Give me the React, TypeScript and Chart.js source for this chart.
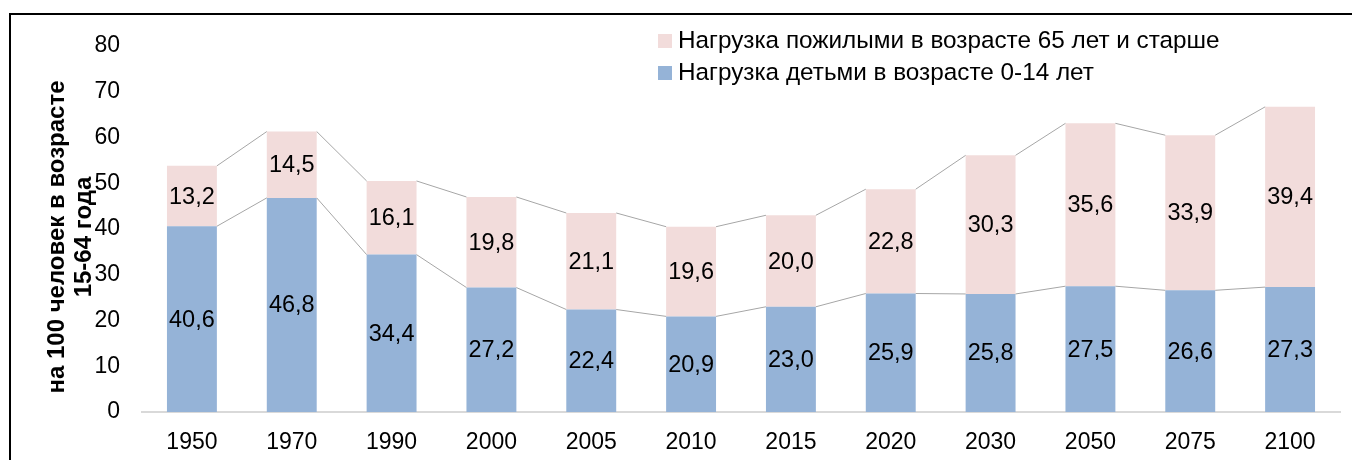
import React, { useEffect, useRef } from "react";
import { Chart, registerables } from "chart.js";

Chart.register(...registerables);

const categories = ["1950", "1970", "1990", "2000", "2005", "2010", "2015", "2020", "2030", "2050", "2075", "2100"];
const childValues = [40.6, 46.8, 34.4, 27.2, 22.4, 20.9, 23.0, 25.9, 25.8, 27.5, 26.6, 27.3];
const elderlyValues = [13.2, 14.5, 16.1, 19.8, 21.1, 19.6, 20.0, 22.8, 30.3, 35.6, 33.9, 39.4];
const childLabel = "Нагрузка детьми в возрасте 0-14 лет";
const elderlyLabel = "Нагрузка пожилыми в возрасте 65 лет и старше";
const yTitle = ["на 100 человек в возрасте", "15-64 года"];
const yTicks = [0, 10, 20, 30, 40, 50, 60, 70, 80];

const BLUE = "#95B3D7";
const PINK = "#F2DCDB";
const FONT = '"Liberation Sans", Arial, sans-serif';

const overlayPlugin = {
  id: "overlay",
  afterDatasetsDraw(chart: any) {
    const ctx = chart.ctx;
    ctx.save();
    // series lines
    ctx.strokeStyle = "#A6A6A6";
    ctx.lineWidth = 1;
    chart.data.datasets.forEach((_ds: any, di: number) => {
      const els = chart.getDatasetMeta(di).data;
      ctx.beginPath();
      for (let i = 0; i < els.length - 1; i++) {
        const a = els[i];
        const b = els[i + 1];
        ctx.moveTo(a.x + a.width / 2, a.y);
        ctx.lineTo(b.x - b.width / 2, b.y);
      }
      ctx.stroke();
    });
    // data labels
    ctx.fillStyle = "#000";
    ctx.font = `23.5px ${FONT}`;
    ctx.textAlign = "center";
    ctx.textBaseline = "middle";
    chart.data.datasets.forEach((ds: any, di: number) => {
      const els = chart.getDatasetMeta(di).data;
      els.forEach((el: any, i: number) => {
        const v = ds.data[i] as number;
        ctx.fillText(v.toFixed(1).replace(".", ","), el.x, (el.y + el.base) / 2 + 1);
      });
    });
    ctx.restore();
  },
  afterDraw(chart: any) {
    const ctx = chart.ctx;
    ctx.save();
    // legend
    const items = [
      { color: PINK, text: elderlyLabel, y: 26 },
      { color: BLUE, text: childLabel, y: 58 },
    ];
    ctx.font = `24.3px ${FONT}`;
    ctx.textAlign = "left";
    ctx.textBaseline = "middle";
    items.forEach((it) => {
      ctx.fillStyle = it.color;
      ctx.fillRect(650, it.y, 14, 14);
      ctx.fillStyle = "#000";
      ctx.fillText(it.text, 670, it.y + 7);
    });
    // y axis title
    const yScale = chart.scales.y;
    const cy = (yScale.top + yScale.bottom) / 2 + 8;
    ctx.translate(49, cy);
    ctx.rotate(-Math.PI / 2);
    ctx.font = `bold 24px ${FONT}`;
    ctx.textAlign = "center";
    ctx.fillStyle = "#000";
    yTitle.forEach((line, i) => {
      ctx.fillText(line, 0, i * 27);
    });
    ctx.restore();
  },
};

export default function App() {
  const ref = useRef<HTMLCanvasElement | null>(null);
  useEffect(() => {
    if (!ref.current) return;
    Chart.defaults.font.family = FONT;
    const chart = new Chart(ref.current, {
      type: "bar",
      data: {
        labels: categories,
        datasets: [
          {
            label: childLabel,
            data: childValues,
            backgroundColor: BLUE,
            barPercentage: 0.5,
            categoryPercentage: 1.0,
          },
          {
            label: elderlyLabel,
            data: elderlyValues,
            backgroundColor: PINK,
            barPercentage: 0.5,
            categoryPercentage: 1.0,
          },
        ],
      },
      options: {
        responsive: false,
        animation: false,
        layout: { padding: { top: 38, right: 20, left: 0, bottom: 0 } },
        plugins: {
          legend: { display: false },
          tooltip: { enabled: false },
        },
        scales: {
          x: {
            stacked: true,
            grid: { display: false },
            border: { display: true, color: "#D9D9D9", width: 2 },
            ticks: { color: "#000", font: { size: 23 }, padding: 9 },
            afterFit: (s: any) => {
              s.height = 48;
            },
          },
          y: {
            stacked: true,
            min: 0,
            max: 80,
            afterBuildTicks: (s: any) => {
              s.ticks = yTicks.map((v) => ({ value: v }));
            },
            grid: { display: false, drawTicks: false },
            border: { display: false },
            ticks: { color: "#000", font: { size: 23 }, padding: 22 },
            afterFit: (s: any) => {
              s.width = 134;
            },
          },
        },
      },
      plugins: [overlayPlugin],
    } as any);
    return () => chart.destroy();
  }, []);

  return (
    <div style={{ position: "relative", width: 1352, height: 452, overflow: "hidden" }}>
      <div
        style={{
          position: "absolute",
          left: 1,
          top: 5,
          width: 1400,
          height: 500,
          border: "2px solid #000",
          boxSizing: "border-box",
        }}
      />
      <canvas ref={ref} width={1352} height={452} style={{ position: "absolute", left: 0, top: 0 }} />
    </div>
  );
}
